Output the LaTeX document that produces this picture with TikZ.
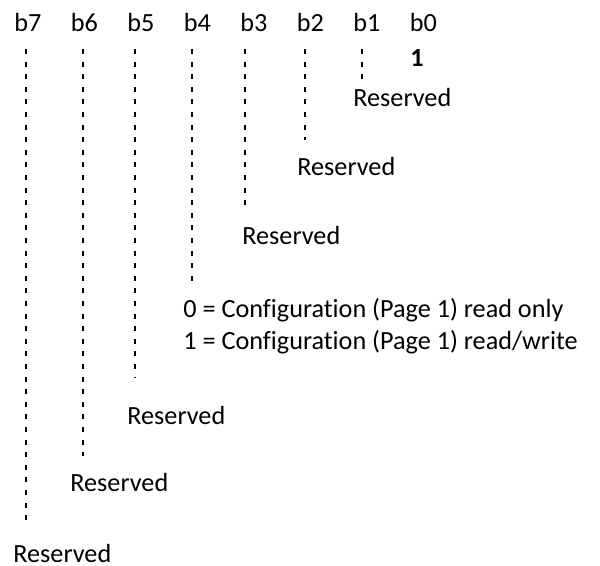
\documentclass[tikz,border=0pt]{standalone}
\usepackage{fontspec}
\setmainfont{Carlito}[Ligatures=NoCommon]
\usetikzlibrary{positioning}

\begin{document}
\begin{tikzpicture}[
    x=0.5pt, y=-0.5pt,
    % Text styles
    bitlabel/.style={anchor=base west, inner sep=0pt, font=\fontsize{13.1}{15.5}\selectfont},
    desclabel/.style={bitlabel},
    valuelabel/.style={bitlabel, font=\fontsize{13.1}{15.5}\selectfont\bfseries},
    % Dashed leader lines
    bitdash/.style={line width=1pt, dash pattern=on 2.5pt off 3.8pt}
]
\useasboundingbox (0,0) rectangle (600,566);

% Bit header
\foreach \n/\x in {7/14, 6/70.5, 5/127, 4/183.5, 3/240, 2/296.5, 1/353, 0/409.5} {
    \node[bitlabel] (b\n) at (\x,32) {b\n};
}

% Fixed value of b0
\node[valuelabel] (val0) at (410,67) {1};

% Descriptions
\node[desclabel] (desc1) at (353,107) {Reserved};
\node[desclabel] (desc2) at (297,176) {Reserved};
\node[desclabel] (desc3) at (242,245) {Reserved};
\node[desclabel] (desc4a) at (183,318) {0 = Configuration (Page 1) read only};
\node[desclabel] (desc4b) at (183,350) {1 = Configuration (Page 1) read/write};
\node[desclabel] (desc5) at (127,425) {Reserved};
\node[desclabel] (desc6) at (70,492) {Reserved};
\node[desclabel] (desc7) at (13,562) {Reserved};

% Leader lines from each bit down to its description
\foreach \n/\x/\yb in {7/26/527, 6/83/456, 5/135/378, 4/192/288, 3/245/210, 2/305/140, 1/362/80} {
    \coordinate (top\n) at (\x,49);
    \coordinate (end\n) at (\x,\yb);
    \draw[bitdash] (top\n) -- (end\n);
}

\end{tikzpicture}
\end{document}
